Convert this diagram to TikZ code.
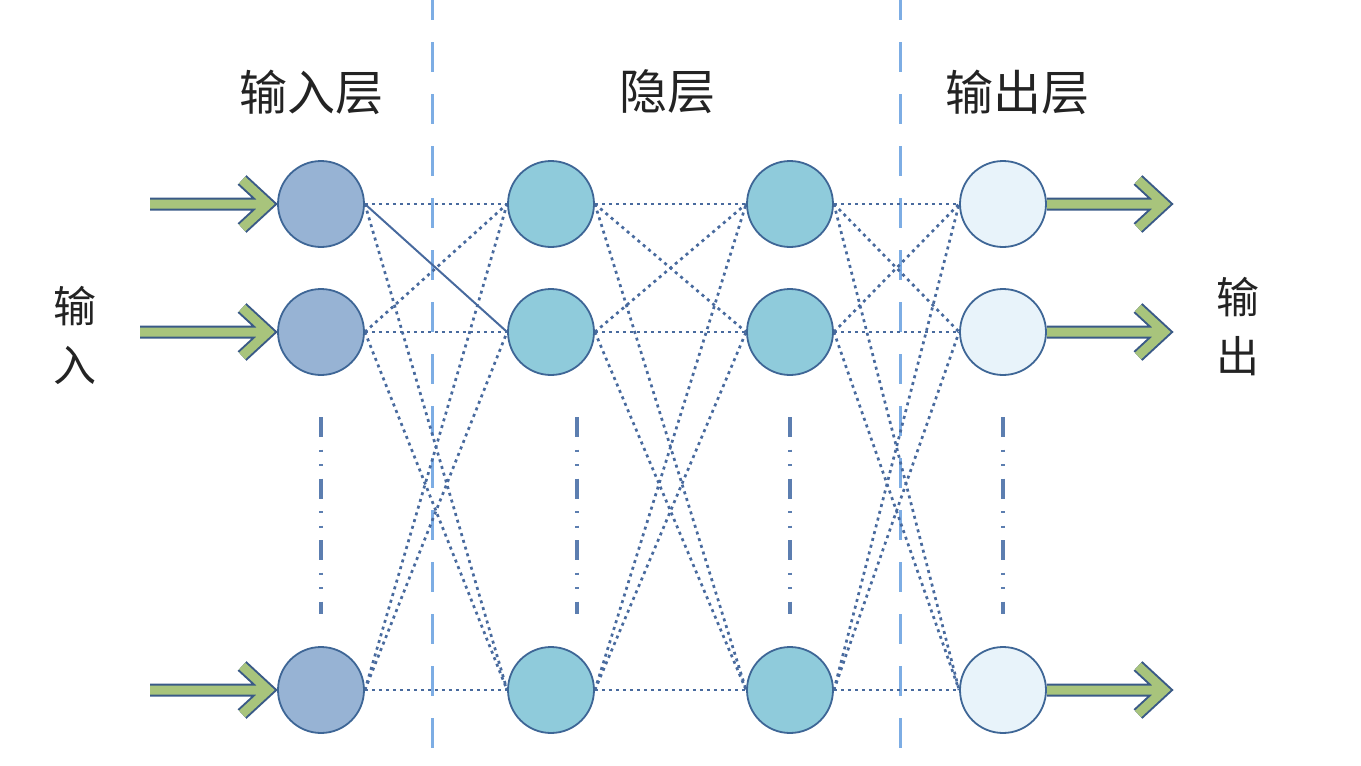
\documentclass[tikz,border=0pt]{standalone}
\usepackage{fontspec}
\newfontfamily\cjk{Noto Sans CJK SC}
\usetikzlibrary{calc}
\pgfdeclarelayer{bg}
\pgfsetlayers{bg,main}
\definecolor{inFill}{RGB}{151,179,212}
\definecolor{hidFill}{RGB}{143,203,219}
\definecolor{outFill}{RGB}{232,243,250}
\definecolor{nodeLine}{RGB}{62,102,150}
\definecolor{linkC}{RGB}{72,106,158}
\definecolor{divC}{RGB}{125,173,228}
\definecolor{colC}{RGB}{92,126,176}
\definecolor{gFill}{RGB}{168,196,124}
\definecolor{gLine}{RGB}{58,90,135}
\definecolor{txtC}{RGB}{35,35,35}
\begin{document}
\begin{tikzpicture}[x=1pt,y=-1pt,
  neuron/.style={circle, minimum size=86pt, inner sep=0pt, line width=1.8pt, draw=nodeLine},
  inneuron/.style={neuron, fill=inFill},
  hidneuron/.style={neuron, fill=hidFill},
  outneuron/.style={neuron, fill=outFill},
  link/.style={draw=linkC, line width=2.7pt, dash pattern=on 3pt off 4pt},
  solidlink/.style={draw=linkC, line width=2pt},
  divider/.style={draw=divC, line width=3pt, dash pattern=on 30pt off 22pt, dash phase=10pt},
  dotcol/.style={draw=colC, line width=3.5pt, dash pattern=on 20pt off 12.5pt on 2pt off 12.5pt on 2pt off 12.5pt},
  garrow/.style={draw=gFill, line width=9pt, line join=miter,
    preaction={draw=gLine, line width=13pt, line join=miter}},
  head/.style={font=\cjk\fontsize{48}{48}\selectfont, text=txtC, inner sep=0pt},
  side/.style={font=\cjk\fontsize{43}{59}\selectfont, text=txtC, align=center, inner sep=0pt}
]
\useasboundingbox (0,0) rectangle (1361,766);

% labels
\node[head] (tin) at (311,92) {输入层};
\node[head] (thid) at (667,92) {隐层};
\node[head] (tout) at (1017,92) {输出层};
\node[side] (sin) at (75,335) {输\\入};
\node[side] (sout) at (1238,327) {输\\出};

% neurons
\foreach \n/\y in {1/204,2/332,3/690}{
  \node[inneuron] (i\n) at (321,\y) {};
  \node[hidneuron] (h\n) at (551,\y) {};
  \node[hidneuron] (g\n) at (790,\y) {};
  \node[outneuron] (o\n) at (1003,\y) {};
}

% coordinates
\coordinate (ain1) at (150,204);
\coordinate (ain2) at (140,332);
\coordinate (ain3) at (150,690);
\foreach \n/\y in {1/204,2/332,3/690}{
  \coordinate (aout\n) at (1164,\y);
}
\coordinate (d1t) at (432,0);
\coordinate (d1b) at (432,766);
\coordinate (d2t) at (900,0);
\coordinate (d2b) at (900,766);
\foreach \k/\x in {1/321,2/577,3/790,4/1003}{
  \coordinate (c\k t) at (\x,417);
  \coordinate (c\k b) at (\x,614);
}

\begin{pgfonlayer}{bg}
  % dividers
  \draw[divider] (d1t) -- (d1b);
  \draw[divider] (d2t) -- (d2b);
  % ellipsis columns
  \foreach \k in {1,2,3,4}{
    \draw[dotcol] (c\k t) -- (c\k b);
  }
  % connections input -> hidden 1
  \foreach \p/\q in {1/1,1/3,2/1,2/2,2/3,3/1,3/2,3/3}{
    \draw[link] (i\p.east) -- (h\q.west);
  }
  \draw[solidlink] (i1.east) -- (h2.west);
  % hidden 1 -> hidden 2, hidden 2 -> output
  \foreach \p in {1,2,3}{
    \foreach \q in {1,2,3}{
      \draw[link] (h\p.east) -- (g\q.west);
      \draw[link] (g\p.east) -- (o\q.west);
    }
  }
  % input and output arrows
  \foreach \n in {1,2,3}{
    \draw[garrow] (ain\n) -- ($(i\n.west)+(-9,0)$)
      ($(i\n.west)+(-35,-24)$) -- ($(i\n.west)+(-9,0)$) -- ($(i\n.west)+(-35,24)$);
    \draw[garrow] (o\n.east) -- (aout\n)
      ($(aout\n)+(-26,-24)$) -- (aout\n) -- ($(aout\n)+(-26,24)$);
  }
\end{pgfonlayer}
\end{tikzpicture}
\end{document}
